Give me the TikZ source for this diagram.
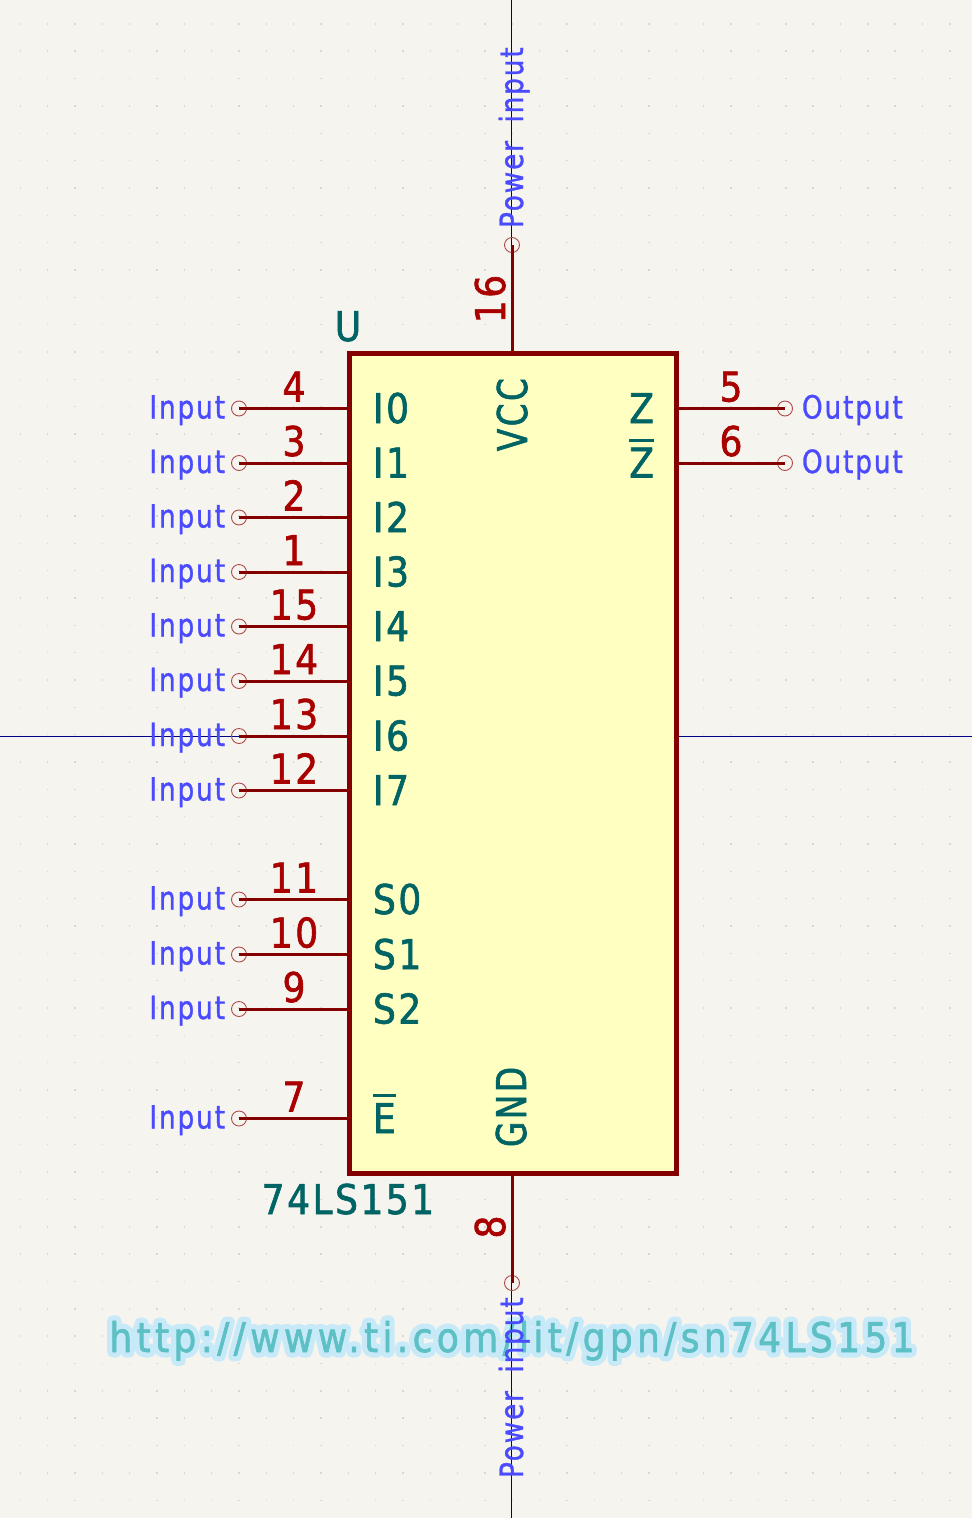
\documentclass[tikz,border=0pt]{standalone}
\usepackage{fontspec}
\newfontfamily\kifont[FakeStretch=0.88,LetterSpace=6,FakeBold=1.5]{DejaVu Sans}
\newfontfamily\kirot[FakeStretch=0.8,LetterSpace=6,FakeBold=1.5]{DejaVu Sans}
\newfontfamily\kismall[FakeStretch=0.82,LetterSpace=6,FakeBold=1,WordSpace=1.8]{DejaVu Sans}
\newfontfamily\kiurl[FakeStretch=0.88,LetterSpace=10.5,FakeBold=1.5]{DejaVu Sans}
\newfontfamily\kihalo[FakeStretch=0.88,LetterSpace=10.5,FakeBold=27]{DejaVu Sans}
\definecolor{sheetbg}{HTML}{F5F4EF}
\definecolor{gridcol}{HTML}{D9D9D2}
\definecolor{bodyfill}{HTML}{FFFFC2}
\definecolor{pincol}{HTML}{840000}
\definecolor{numcol}{HTML}{A90000}
\definecolor{namecol}{HTML}{006464}
\definecolor{typecol}{HTML}{4A4AFF}
\definecolor{endcol}{HTML}{B04848}
\definecolor{axiscol}{HTML}{000084}
\definecolor{urlcol}{HTML}{5CC0C4}
\definecolor{halocol}{HTML}{C8EAF8}
\newcommand{\bigsize}{\fontsize{41}{41}\selectfont}
\newcommand{\smallsize}{\fontsize{32}{32}\selectfont}
\newcommand{\negbar}[1]{\setbox0\hbox{#1}\rlap{\rule[1.2\ht0]{\wd0}{3pt}}\box0}
\tikzset{
  pinline/.style={draw=pincol, line width=3pt},
  pinend/.style={draw=endcol, circle, line width=0.9pt, inner sep=0, outer sep=0, minimum size=15pt},
  pinnum/.style={inner sep=0, outer sep=0, text=numcol, font=\kifont\bigsize},
  pinname/.style={inner sep=0, outer sep=0, text=namecol, font=\kifont\bigsize},
  pintype/.style={inner sep=0, outer sep=0, text=typecol, font=\kismall\smallsize},
  axis/.style={draw=axiscol, line width=0.8pt},
}
\begin{document}
\begin{tikzpicture}[x=1pt, y=-1pt]
        \useasboundingbox[fill=sheetbg] (0, 0) rectangle (972, 1518);
        % Grid.
        \foreach \i in {-8, ..., 27} {
            \foreach \j in {-14, ..., 40} {
                \fill[gridcol] (239 + 27.34 * \i - 0.7, 408 + 27.34 * \j - 0.7) rectangle +(1.4, -1.4);
            }
        }
        \coordinate (axisL) at (0, 736);
        \coordinate (axisR) at (972, 736);
        \coordinate (axisT) at (511.5, 0);
        \coordinate (axisB) at (511.5, 1518);
        \draw[axis] (axisL) -- (axisR);
        \node[pinname, font=\kiurl\bigsize, anchor=base] (url) at (512, 1352) {\pgfsetroundjoin\rlap{\kihalo\color{halocol}http://www.ti.com/lit/gpn/sn74LS151}\color{urlcol}http://www.ti.com/lit/gpn/sn74LS151};
        \draw[axis] (axisT) -- (axisB);
        \node[draw=pincol, fill=bodyfill, line width=5pt, inner sep=0, outer sep=0, minimum width=327pt, minimum height=820pt] (chip) at (512.5, 763) {};
        % Left pins.
        \foreach \ypos/\num/\name in {408.5/4/I0, 463/3/I1, 517.5/2/I2, 572/1/I3, 626.5/15/I4, 681/14/I5, 736/13/I6, 790.5/12/I7, 899.5/11/S0, 954.5/10/S1, 1009/9/S2, 1118.5/7/{\negbar{E}}} {
            \node[pinend] (p\num) at (239, \ypos) {};
            \draw[pinline] (p\num.center) -- (p\num.center -| chip.west);
            \node[pinnum, anchor=base] (n\num) at (294, \ypos - 7) {\num};
            \node[pinname, anchor=base west] (s\num) at (373, \ypos + 14.5) {\name};
            \node[pintype, anchor=base east] (t\num) at (225, \ypos + 10) {Input};
        }
        % Right pins.
        \foreach \ypos/\num/\name in {408.5/5/Z, 463/6/{\negbar{Z}}} {
            \node[pinend] (p\num) at (785, \ypos) {};
            \draw[pinline] (p\num.center) -- (p\num.center -| chip.east);
            \node[pinnum, anchor=base] (n\num) at (731, \ypos - 7) {\num};
            \node[pinname, anchor=base east] (s\num) at (654, \ypos + 14.5) {\name};
            \node[pintype, anchor=base west] (t\num) at (802, \ypos + 10) {Output};
        }
        % Power pins.
        \node[pinend] (p16) at (512, 245) {};
        \draw[pinline] (p16.center) -- (p16.center |- chip.north);
        \node[pinnum, rotate=90, anchor=base] (n16) at (505, 299) {16};
        \node[pinname, font=\kirot\bigsize, rotate=90, anchor=base east] (s16) at (527, 378) {VCC};
        \node[pintype, rotate=90, anchor=base west] (t16) at (523, 228) {Power input};
        \node[pinend] (p8) at (512, 1283) {};
        \draw[pinline] (p8.center) -- (p8.center |- chip.south);
        \node[pinnum, rotate=90, anchor=base] (n8) at (505, 1227) {8};
        \node[pinname, font=\kirot\bigsize, rotate=90, anchor=base west] (s8) at (526, 1147) {GND};
        \node[pintype, rotate=90, anchor=base west] (t8) at (523, 1478) {Power input};
        % Reference and value.
        \node[pinname, anchor=base] (ref) at (348, 341) {U};
        \node[pinname, anchor=base] (val) at (348, 1214) {74LS151};
    \end{tikzpicture}
\end{document}
